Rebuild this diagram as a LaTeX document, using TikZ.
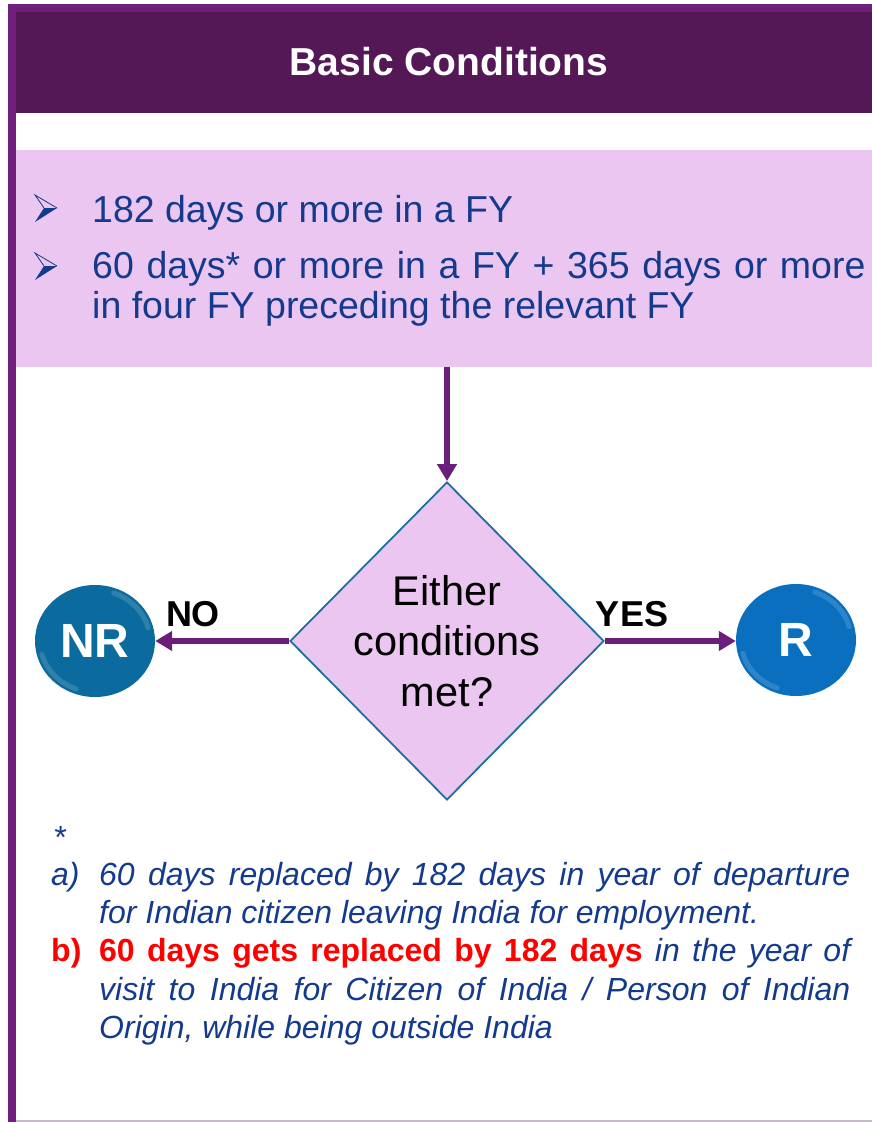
\documentclass[tikz,border=0pt]{standalone}
\usepackage{fontspec}
\setmainfont{Liberation Sans}
\usepackage{tikz}
\usetikzlibrary{arrows.meta, shapes.geometric}
\definecolor{framePurple}{HTML}{6E1F7B}
\definecolor{headPurple}{HTML}{541857}
\definecolor{boxPink}{HTML}{EBC6F0}
\definecolor{textBlue}{HTML}{143A8E}
\definecolor{arrowPurple}{HTML}{6A1E7A}
\definecolor{edgeBlue}{HTML}{1D6FA0}
\definecolor{nrBlue}{HTML}{0B6B9E}
\definecolor{rBlue}{HTML}{0A6FBF}
\definecolor{rimLine}{HTML}{C9B7CD}
\tikzstyle{dCriteria} = [rectangle, fill=boxPink, minimum width=856pt, minimum height=217pt, inner sep=0pt]
\tikzstyle{dDecision} = [diamond, draw=edgeBlue, line width=1.8pt, fill=boxPink, minimum width=314pt, minimum height=318pt, inner sep=0pt]
\tikzstyle{dResult} = [ellipse, minimum width=120pt, minimum height=112pt, inner sep=0pt, text=white, font=\fontsize{48}{56}\selectfont\bfseries]
\tikzstyle{dRim} = [white, opacity=0.15, line width=5pt, line cap=round]
\tikzstyle{dArrow} = [line width=6pt, draw=arrowPurple, -{Triangle[width=19pt,length=17pt]}]
\tikzstyle{dLabel} = [anchor=base, inner sep=0pt, font=\fontsize{36}{42}\selectfont\bfseries]
\tikzstyle{dBullet} = [anchor=base west, inner sep=0pt, text=textBlue, font=\fontsize{37.5}{40}\selectfont]
\begin{document}
\begin{tikzpicture}[x=1pt, y=-1pt]
    \useasboundingbox (0,0) rectangle (872,1122);
    % frame and header
    \fill[framePurple] (8,4) rectangle (872,1122);
    \fill[white] (16,113) rectangle (872,1122);
    \fill[headPurple] (16,12) rectangle (872,113);
    \draw[rimLine, line width=2pt] (16,1121) -- (872,1121);
    \node (title) [anchor=base, inner sep=0pt, text=white, font=\fontsize{39}{46}\selectfont\bfseries] at (449,75) {Basic Conditions};

    % conditions box
    \node (criteria) [dCriteria] at (444,258.5) {};
    \foreach \by in {208,266} {
        \fill[textBlue] (57,\by) -- (44,\by) -- (35,\by+14) -- cycle;
        \draw[textBlue, line width=0.8pt] (57,\by) -- (35,\by-13) -- (44,\by);
    }
    \node (ruleOne) [dBullet] at (92,222) {182 days or more in a FY};
    \node (ruleTwo) [dBullet] at (92,278) {\spaceskip=12.6pt\relax 60 days* or more in a FY + 365 days or more};
    \node (ruleTwoCont) [dBullet] at (92,318) {in four FY preceding the relevant FY};

    % decision
    \node (decision) [dDecision] at (447,641) {};
    \node (question) [align=center, inner sep=0pt, font=\fontsize{41.5}{50.5}\selectfont] at (decision) {Either\\conditions\\met?};
    \node (nr) [dResult, fill=nrBlue] at (95,641) {NR};
    \node (r) [dResult, fill=rBlue] at (796,640) {R};
    \draw[dRim] (nr.center) ++(110:55 and 51) arc (110:165:55 and 51);
    \draw[dRim] (nr.center) ++(290:55 and 51) arc (290:345:55 and 51);
    \draw[dRim] (r.center) ++(110:55 and 51) arc (110:165:55 and 51);
    \draw[dRim] (r.center) ++(290:55 and 51) arc (290:345:55 and 51);

    \draw [dArrow] (criteria.south -| decision.north) -- (decision.north);
    \draw [dArrow] (decision.west) -- (decision.west -| nr.east);
    \draw [dArrow] (decision.east) -- (decision.east -| r.west);
    \node (noLabel) [dLabel] at (193,626) {NO};
    \node (yesLabel) [dLabel] at (632,626) {YES};

    % footnote
    \node (star) [anchor=base west, inner sep=0pt, text=textBlue, font=\fontsize{32}{38}\selectfont\itshape] at (53,848) {*};
    \node (notes) [anchor=base west, inner sep=0pt, text width=799pt, align=justify, text=textBlue, font=\fontsize{32}{38.4}\selectfont\itshape] at (51,885) {\leftskip=48pt
        \hspace*{-48pt}\makebox[48pt][l]{a)}60 days replaced by 182 days in year of departure\linebreak for Indian citizen leaving India for employment.\par
        \hspace*{-48pt}\makebox[48pt][l]{\textcolor{red}{\upshape\bfseries b)}}\textcolor{red}{\upshape\bfseries 60 days gets replaced by 182 days} in the year of\linebreak visit to India for Citizen of India / Person of Indian\linebreak Origin, while being outside India\par};
\end{tikzpicture}
\end{document}
